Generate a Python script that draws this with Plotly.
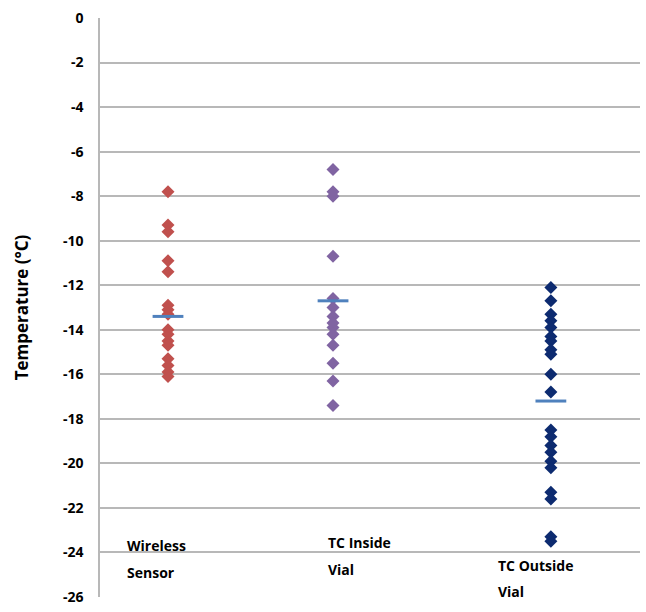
import plotly.graph_objects as go

categories = ["Wireless Sensor", "TC Inside Vial", "TC Outside Vial"]
cat_x = [1.0, 2.0, 3.32]
label_lines = [["Wireless", "Sensor"], ["TC Inside", "Vial"], ["TC Outside", "Vial"]]
label_x = [0.74, 1.96, 2.99]
label_y = [[-23.7, -24.9], [-23.55, -24.75], [-24.6, -25.75]]

wireless = [-7.8, -9.3, -9.6, -10.9, -11.4, -12.9, -13.1, -13.3, -14.0, -14.2,
            -14.5, -14.7, -15.3, -15.6, -15.9, -16.1]
tc_inside = [-6.8, -7.8, -8.0, -10.7, -12.6, -13.0, -13.4, -13.7, -13.9, -14.2,
             -14.7, -15.5, -16.3, -17.4]
tc_outside = [-12.1, -12.7, -13.3, -13.6, -13.9, -14.3, -14.5, -14.9, -15.1, -16.0,
              -16.8, -18.5, -18.8, -19.2, -19.5, -19.9, -20.2, -21.3, -21.6, -23.3, -23.5]
means = [-13.4, -12.7, -17.2]

series = [wireless, tc_inside, tc_outside]
colors = ["#C0504D", "#8064A2", "#0D2B70"]

y_ticks = list(range(0, -27, -2))
y_ticktext = ["<b>%d</b>" % v for v in y_ticks]

FONT = "'Open Sans', 'DejaVu Sans', sans-serif"

fig = go.Figure()
for i, vals in enumerate(series):
    fig.add_trace(go.Scatter(
        x=[cat_x[i]] * len(vals), y=vals, mode="markers",
        marker=dict(symbol="diamond", size=10, color=colors[i]),
        name=categories[i], showlegend=False))

fig.add_trace(go.Scatter(
    x=cat_x, y=means, mode="markers",
    marker=dict(symbol="line-ew", size=22, line=dict(width=3, color="#4F81BD")),
    showlegend=False, name="Mean"))

for i, lines in enumerate(label_lines):
    for j, t in enumerate(lines):
        fig.add_annotation(x=label_x[i], y=label_y[i][j], xref="x", yref="y",
                           text="<b>%s</b>" % t, showarrow=False, xanchor="left", yanchor="middle",
                           font=dict(family=FONT, size=14, color="#000"))

fig.update_layout(
    width=646, height=612,
    margin=dict(l=100, r=6, t=18, b=9),
    paper_bgcolor="white", plot_bgcolor="white",
    font=dict(family=FONT, color="#000"),
)
fig.update_xaxes(range=[0.588, 3.86], showticklabels=False, showgrid=False,
                 zeroline=False, showline=False)
fig.update_yaxes(range=[-26, 0], tickvals=y_ticks, ticktext=y_ticktext,
                 showgrid=True, gridcolor="#B8B8B8", gridwidth=1.5,
                 zeroline=False, showline=True, linecolor="#B8B8B8", linewidth=1.5,
                 ticks="", ticklen=0, ticklabelstandoff=12,
                 tickfont=dict(family=FONT, size=14, color="#000"),
                 title=dict(text="<b>Temperature (°C)</b>", standoff=30,
                            font=dict(family=FONT, size=17, color="#000")))

fig.write_html("out.html")
